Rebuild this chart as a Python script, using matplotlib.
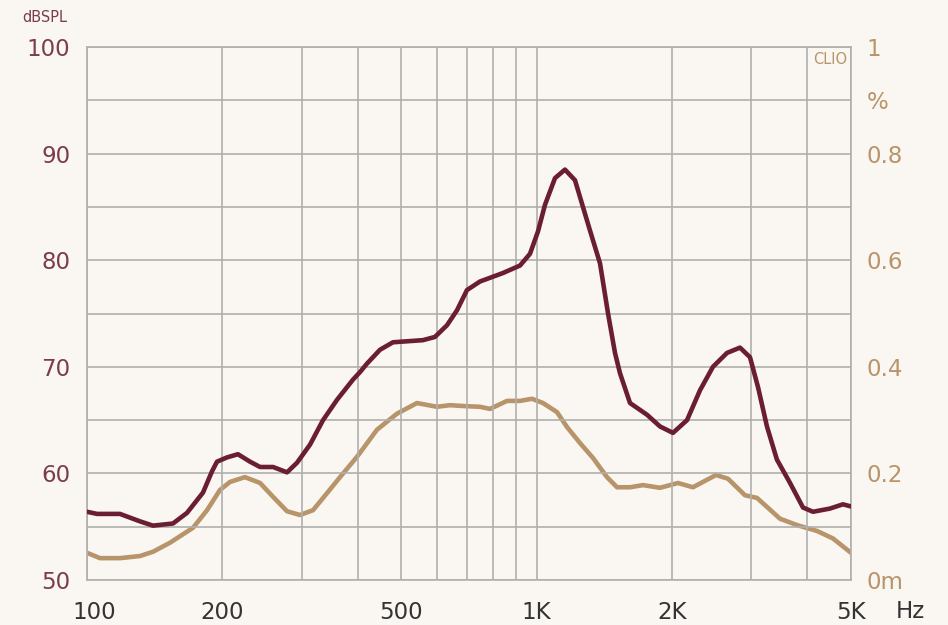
import matplotlib
matplotlib.use("Agg")
import matplotlib.pyplot as plt
import matplotlib.transforms as mtransforms
import numpy as np

# SPL curve (Hz, dB)
spl_freq = [100, 105.3, 118.4, 131.2, 140.2, 155.3, 166.9, 181.1, 189.7, 194.6, 204.8, 216.6,
            230.4, 242.6, 259.3, 278.5, 293.1, 313.3, 334.9, 359.7, 390.4, 404.6, 419.4,
            448.3, 479.1, 558.7, 593.9, 631.8, 664.9, 699.8, 747.9, 841.6, 918.2, 966.3,
            1006.7, 1043.5, 1098.3, 1155.9, 1216.8, 1313.5, 1383.1, 1441.0, 1493.4, 1532.0,
            1612.7, 1759.5, 1880.7, 2009.3, 2159.5, 2307.9, 2466.0, 2649.7, 2832.0, 2980.8,
            3105.7, 3251.7, 3421.2, 3659.6, 3910.3, 4115.8, 4488.1, 4797.4, 5000]
spl_db = [56.4, 56.2, 56.2, 55.5, 55.1, 55.3, 56.3, 58.2, 60.2, 61.1, 61.5, 61.8,
          61.1, 60.6, 60.6, 60.1, 61.0, 62.7, 65.0, 66.9, 68.8, 69.5, 70.3,
          71.6, 72.3, 72.5, 72.8, 73.9, 75.3, 77.2, 78.0, 78.8, 79.5, 80.6,
          82.7, 85.2, 87.7, 88.5, 87.5, 82.8, 79.7, 75.0, 71.3, 69.4,
          66.6, 65.5, 64.4, 63.8, 65.0, 67.8, 70.0, 71.3, 71.8, 70.9,
          68.1, 64.4, 61.3, 59.1, 56.8, 56.4, 56.7, 57.1, 56.9]

# THD curve (Hz, %)
thd_freq = [100, 106.9, 118.4, 131.2, 140.2, 153.0, 172.1, 184.9, 197.6, 208.0, 224.5, 242.6,
            259.3, 278.5, 297.6, 318.2, 341.8, 365.3, 398.4, 441.5, 489.0, 541.7, 600.1,
            641.4, 699.8, 747.9, 787.3, 859.0, 918.2, 976.3, 1032.8, 1109.5, 1167.9, 1248.3,
            1334.2, 1433.3, 1508.8, 1612.7, 1723.3, 1880.7, 2061.4, 2226.1, 2504.8, 2663.4,
            2905.3, 3090.0, 3475.5, 3792.8, 4201.7, 4557.7, 5000]
thd_pct = [0.051, 0.041, 0.041, 0.045, 0.053, 0.070, 0.098, 0.131, 0.169, 0.184, 0.193, 0.182,
           0.156, 0.129, 0.122, 0.131, 0.163, 0.193, 0.231, 0.282, 0.312, 0.332, 0.325,
           0.328, 0.326, 0.325, 0.321, 0.336, 0.336, 0.340, 0.332, 0.315, 0.287, 0.257,
           0.229, 0.193, 0.174, 0.174, 0.178, 0.173, 0.182, 0.174, 0.197, 0.190,
           0.159, 0.154, 0.115, 0.103, 0.092, 0.078, 0.051]

x_ticks = [100, 200, 500, 1000, 2000, 5000]
x_labels = ["100", "200", "500", "1K", "2K", "5K"]
left_ticks = [50, 60, 70, 80, 90, 100]
right_ticks = [0, 0.2, 0.4, 0.6, 0.8, 0.9, 1.0]
right_labels = ["0m", "0.2", "0.4", "0.6", "0.8", "%", "1"]

BG = "#faf7f2"
RED = "#6b1e33"
TAN = "#b8946a"
GRID = "#afafaf"
LEFTC = "#7a3c4e"
XC = "#333333"

plt.rcParams['font.family'] = ['DejaVu Sans']

fig = plt.figure(figsize=(9.48, 6.25), dpi=100, facecolor=BG)
ax = fig.add_axes([87/948, 1-580/625, (851-87)/948, (580-47)/625])
ax.set_facecolor(BG)
ax.set_xscale('log')
ax.set_xlim(100, 5000)
ax.set_ylim(50, 100)

# grid
vgrid = [100, 200, 300, 400, 500, 600, 700, 800, 900, 1000, 2000, 3000, 4000, 5000]
for v in vgrid:
    ax.axvline(v, color=GRID, lw=1.2, zorder=1)
for h in np.arange(50, 101, 5):
    ax.axhline(h, color=GRID, lw=1.2, zorder=1)
for s in ax.spines.values():
    s.set_color(GRID)
    s.set_linewidth(1.2)

ax.set_xticks(x_ticks)
ax.set_xticklabels(x_labels)
ax.xaxis.set_minor_locator(matplotlib.ticker.NullLocator())
ax.set_yticks(left_ticks)
ax.tick_params(axis='both', length=0)
ax.tick_params(axis='x', colors=XC, labelsize=16.5, pad=15)
ax.tick_params(axis='y', colors=LEFTC, labelsize=16.5, pad=12)
# first x label sits a little to the right of its tick
first = ax.get_xticklabels()[0]
first.set_transform(first.get_transform() + mtransforms.ScaledTranslation(7/100, 0, fig.dpi_scale_trans))

ax2 = ax.twinx()
ax2.set_ylim(0, 1)
ax2.set_yticks(right_ticks)
ax2.set_yticklabels(right_labels)
ax2.tick_params(axis='y', length=0, colors=TAN, labelsize=16.5, pad=11)
for s in ax2.spines.values():
    s.set_visible(False)

ax2.plot(thd_freq, thd_pct, color=TAN, lw=3.3, solid_capstyle='round', solid_joinstyle='round', zorder=3)
ax.plot(spl_freq, spl_db, color=RED, lw=3.3, solid_capstyle='round', solid_joinstyle='round', zorder=4)
ax.set_zorder(ax2.get_zorder() + 1)
ax.patch.set_visible(False)
ax2.patch.set_visible(True)
ax2.patch.set_facecolor(BG)

fig.text(22/948, 1-17/625, "dBSPL", color=LEFTC, fontsize=10.5, va='center', ha='left')
fig.text(910/948, 1-611/625, "Hz", color=XC, fontsize=16.5, va='center', ha='center')
fig.text(847/948, 1-60/625, "CLIO", color=TAN, fontsize=10.5, ha='right', va='center')

fig.savefig("out.png", dpi=100, facecolor=BG)
